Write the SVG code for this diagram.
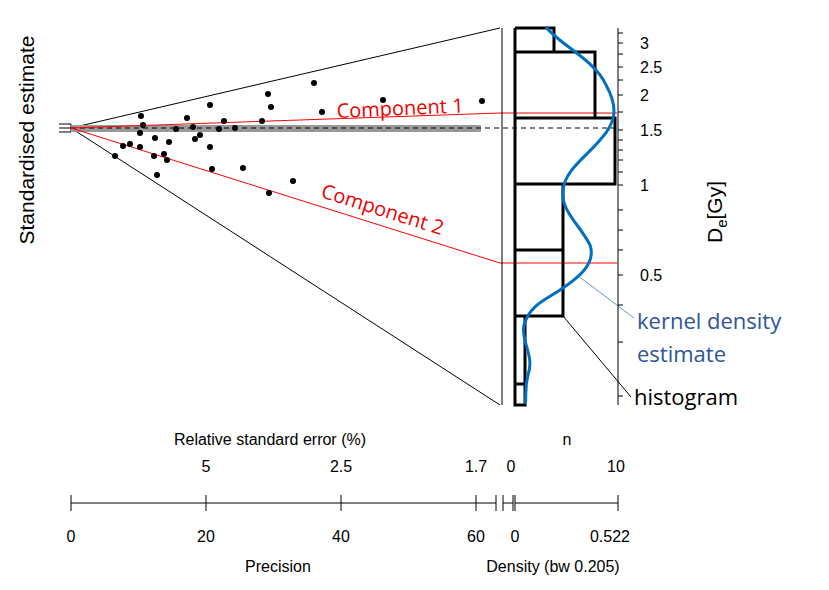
<svg xmlns="http://www.w3.org/2000/svg" width="829" height="590" viewBox="0 0 829 590">
<style>
text{font-family:"Liberation Sans",Arial,sans-serif;font-size:16px;fill:#000}
.c{font-family:"Open Sans","Noto Sans",sans-serif;fill:#e00;font-size:20px}
.b{font-family:"Open Sans","Noto Sans",sans-serif;font-size:22px}
.big{font-size:21px}
.l{stroke:#000;stroke-width:1;fill:none}
.h{stroke:#000;stroke-width:3;fill:none}
</style>
<rect width="829" height="590" fill="#fff"/>
<g id="connectors">
<path class="l" d="M71,128 L500,28 M71,128 L500,405"/>
<path class="l" d="M59,124H71M59,128H71M59,132H71M71,124V132"/>
<rect x="71" y="125" width="410" height="7" fill="#999"/>
<path d="M71,128H617" stroke="#000" stroke-dasharray="5,4"/>
<path d="M71,128 L500,113 H617 M71,128 L500,263 H617" stroke="#f00" fill="none"/>
<path d="M577,275 L634,318" stroke="#5b9bd5"/>
<path d="M563,316 L631,397" stroke="#000"/>
</g>
<g id="points" fill="#000">
<circle cx="314" cy="83" r="3"/><circle cx="268" cy="94" r="3"/><circle cx="271" cy="107" r="3"/><circle cx="210" cy="105" r="3"/><circle cx="141" cy="116" r="3"/><circle cx="322" cy="112" r="3"/><circle cx="383" cy="100" r="3"/><circle cx="482" cy="101" r="3"/><circle cx="187" cy="118" r="3"/><circle cx="224" cy="121" r="3"/><circle cx="262" cy="121" r="3"/><circle cx="143" cy="125" r="3"/><circle cx="193" cy="127" r="3"/><circle cx="176" cy="129" r="3"/><circle cx="219" cy="129" r="3"/><circle cx="235" cy="128" r="3"/><circle cx="140" cy="133" r="3"/><circle cx="200" cy="135" r="3"/><circle cx="195" cy="139" r="3"/><circle cx="155" cy="138" r="3"/><circle cx="169" cy="142" r="3"/><circle cx="123" cy="146" r="3"/><circle cx="130" cy="144" r="3"/><circle cx="140" cy="147" r="3"/><circle cx="210" cy="147" r="3"/><circle cx="115" cy="156" r="3"/><circle cx="154" cy="156" r="3"/><circle cx="164" cy="154" r="3"/><circle cx="167" cy="160" r="3"/><circle cx="212" cy="169" r="3"/><circle cx="243" cy="168" r="3"/><circle cx="157" cy="175" r="3"/><circle cx="293" cy="181" r="3"/><circle cx="269" cy="193" r="3"/>
</g>
<text class="c" transform="translate(337,118) rotate(-2.5)">Component 1</text>
<text class="c" transform="translate(320,197) rotate(17.5)">Component 2</text>
<text class="big" transform="translate(34,140) rotate(-90)" text-anchor="middle">Standardised estimate</text>
<g id="panel">
<path class="l" d="M502,28V405"/>
<path class="l" d="M618,28V405"/>
<path class="h" d="M515,28V405H525V316H563V184H615V118H595V52H554V28H515 M515,52H595 M515,118H615 M515,184H563 M515,250H563 M515,316H563 M515,384H525"/>
<path d="M546,27 C560,45 595,60 606,85 C620,110 614,125 600,140 C585,158 565,170 563,190 C560,210 580,225 590,245 C597,265 575,280 560,290 C545,300 530,305 524,325 C520,340 535,355 528,375 C524,390 527,398 525,404" stroke="#0070c0" stroke-width="3" fill="none"/>
<path class="l" d="M618,33h5M618,43h5M618,54h5M618,67h5M618,80h5M618,95h5M618,112h5M618,130h5M618,140h5M618,150h5M618,160h5M618,172h5M618,185h5M618,210h5M618,230h5M618,250h5M618,275h5M618,305h5M618,342h5M618,396h5"/>
<text x="640" y="49">3</text><text x="640" y="73">2.5</text><text x="640" y="101">2</text><text x="640" y="136">1.5</text><text x="640" y="191">1</text><text x="640" y="281">0.5</text>
<text class="big" transform="translate(722,212) rotate(-90)" text-anchor="middle">D<tspan style="font-size:15px" dy="5">e</tspan><tspan dy="-5">[Gy]</tspan></text>
</g>
<text class="b" x="637" y="329" style="fill:#2f5597">kernel density</text>
<text class="b" x="637" y="362" style="fill:#2f5597">estimate</text>
<text class="b" x="634" y="405">histogram</text>
<g id="axes">
<path class="l" d="M71,503H496 M503,503H513 M515,503H618 M71,495V511 M206,495V511 M341,495V511 M476,495V511 M496,495V511 M503,495V511 M513,495V511 M515,495V511 M618,495V511"/>
<text x="71" y="542" text-anchor="middle">0</text><text x="206" y="542" text-anchor="middle">20</text><text x="341" y="542" text-anchor="middle">40</text><text x="476" y="542" text-anchor="middle">60</text>
<text x="515" y="542" text-anchor="middle">0</text><text x="610" y="542" text-anchor="middle">0.522</text>
<text x="206" y="472" text-anchor="middle">5</text><text x="341" y="472" text-anchor="middle">2.5</text><text x="476" y="472" text-anchor="middle">1.7</text>
<text x="511" y="472" text-anchor="middle">0</text><text x="616" y="472" text-anchor="middle">10</text>
<text x="270" y="445" text-anchor="middle">Relative standard error (%)</text><text x="567" y="445" text-anchor="middle">n</text>
<text x="278" y="572" text-anchor="middle">Precision</text><text x="553" y="572" text-anchor="middle">Density (bw 0.205)</text>
</g>
</svg>
